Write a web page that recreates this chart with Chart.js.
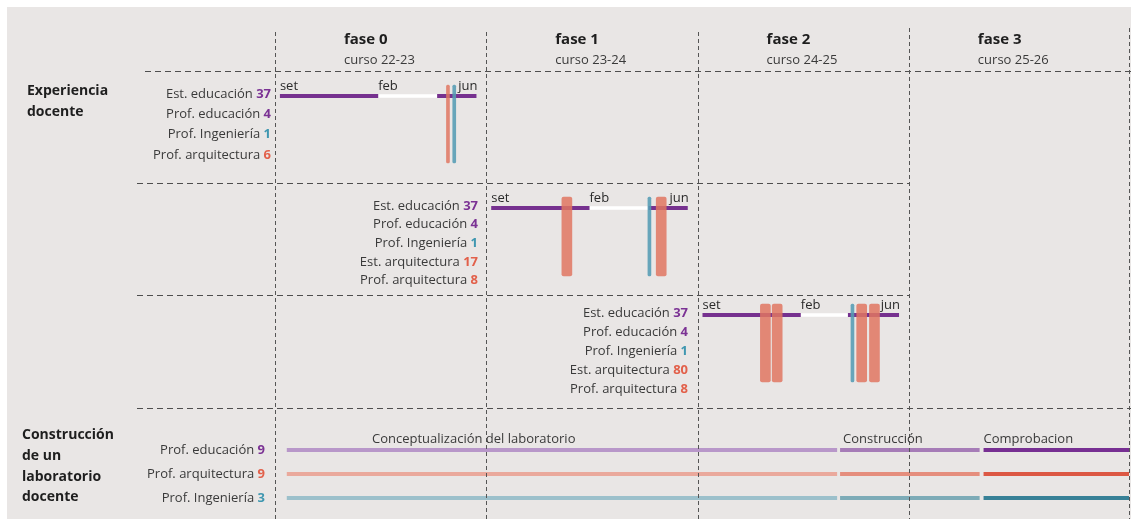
<!DOCTYPE html>
<html>
<head>
<meta charset="utf-8">
<script src="https://cdn.jsdelivr.net/npm/chart.js@4.4.1/dist/chart.umd.min.js"></script>
<style>
html,body{margin:0;padding:0;background:#ffffff;}
#wrap{width:1131px;height:519px;position:relative;}
</style>
</head>
<body>
<div id="wrap"><canvas id="c" width="1131" height="519"></canvas></div>
<script>
// ---------------- DATA ----------------
const phases = ['fase 0', 'fase 1', 'fase 2', 'fase 3'];
const courses = ['curso 22-23', 'curso 23-24', 'curso 24-25', 'curso 25-26'];

const sectionTitles = [['Experiencia', 'docente'], ['Construcción', 'de un', 'laboratorio', 'docente']];

const monthLabels = ['set', 'feb', 'jun'];
const monthLabelAt = [0, 5, 10];           // months from September

// Experiencia docente: one block per phase 0..2
const blockParticipants = [
  ['Est. educación', 'Prof. educación', 'Prof. Ingeniería', 'Prof. arquitectura'],
  ['Est. educación', 'Prof. educación', 'Prof. Ingeniería', 'Est. arquitectura', 'Prof. arquitectura'],
  ['Est. educación', 'Prof. educación', 'Prof. Ingeniería', 'Est. arquitectura', 'Prof. arquitectura']
];
const blockCounts = [
  [37, 4, 1, 6],
  [37, 4, 1, 17, 8],
  [37, 4, 1, 80, 8]
];
const blockGroups = [
  ['edu', 'edu', 'ing', 'arq'],
  ['edu', 'edu', 'ing', 'arq', 'arq'],
  ['edu', 'edu', 'ing', 'arq', 'arq']
];
// education students' course: active periods and break (months from September)
const eduActive = [[[0, 5], [8, 10]], [[0, 5], [8, 10]], [[0, 5], [7.4, 10]]];
const eduBreak = [[5, 8], [5, 8], [5, 7.4]];
// joint sessions (month from September)
const arqSessions = [[8.55], [3.85, 8.65], [3.2, 3.8, 8.1, 8.75]];
const arqSessionKind = ['prof', 'est', 'est'];
const ingSessions = [[8.87], [8.05], [7.63]];

// Construcción de un laboratorio docente
const labParticipants = ['Prof. educación', 'Prof. arquitectura', 'Prof. Ingeniería'];
const labCounts = [9, 9, 3];
const labGroups = ['edu', 'arq', 'ing'];
const labStages = ['Conceptualización del laboratorio', 'Construcción', 'Comprobacion'];
const labStageStart = [[0, 0.35], [2, 7.0], [3, 3.55]];   // [phase, month]
const labStageEnd = [[2, 6.85], [3, 3.35], [3, 10.95]];

// ---------------- STYLE / LAYOUT ----------------
const FONT = '"Open Sans", "Noto Sans", sans-serif';
const TEXT = '#3a3a3a';
const numColor = { edu: '#7b3294', ing: '#3f97b0', arq: '#e2604a' };
const labColors = {
  edu: ['#b897c9', '#a67cb7', '#772f92'],
  arq: ['#eaa99c', '#e58e7d', '#dc5844'],
  ing: ['#9cc0cb', '#7dabb7', '#388197']
};
const PURPLE = '#76318f';
const PHASE_W = 10.75, TL_OFF = 0.25, X_MAX = 43.45;
function pos(phase, month) { return phase * PHASE_W + TL_OFF + month; }

const blockRowY = [[94, 114, 134, 155], [206, 224.6, 243.2, 261.8, 280.4], [313, 332, 351, 370.5, 389.5]];
const blockLabelRight = [271, 478, 688];
const tlY = [96, 208, 315];
const barSpan = [[85, 163], [197, 276], [304, 382]];
const monthLabelY = [86, 198, 305];
const labY = [450, 474, 498];

// ---------------- DATASETS ----------------
const datasets = [];
function seg(x0, x1, yv, color, w, order) {
  datasets.push({
    type: 'line', data: [{ x: x0, y: yv }, { x: x1, y: yv }],
    borderColor: color, borderWidth: w, pointRadius: 0, borderCapStyle: 'butt',
    fill: false, tension: 0, order: order
  });
}
function vbar(xv, y0, y1, color, w) {
  datasets.push({
    type: 'bar', data: [{ x: xv, y: [y0, y1] }], backgroundColor: color,
    barThickness: w, grouped: false, borderRadius: 2, borderSkipped: false, order: 1
  });
}
for (let b = 0; b < 3; b++) {
  eduActive[b].forEach(p => seg(pos(b, p[0]), pos(b, p[1]), tlY[b], PURPLE, 4, 3));
  seg(pos(b, eduBreak[b][0]), pos(b, eduBreak[b][1]), tlY[b], '#ffffff', 3.5, 3);
  ingSessions[b].forEach(m => vbar(pos(b, m), barSpan[b][0], barSpan[b][1], 'rgba(84,156,180,0.88)', 3));
  arqSessions[b].forEach(m => vbar(pos(b, m), barSpan[b][0], barSpan[b][1], 'rgba(225,118,98,0.85)', arqSessionKind[b] === 'prof' ? 3 : 10));
}
labGroups.forEach((g, r) => {
  labStages.forEach((s, k) => {
    seg(pos(labStageStart[k][0], labStageStart[k][1]), pos(labStageEnd[k][0], labStageEnd[k][1]), labY[r], labColors[g][k], 4, 2);
  });
});

// ---------------- PLUGINS ----------------
const bgPlugin = {
  id: 'bg',
  beforeDraw(chart) {
    const ctx = chart.ctx;
    ctx.save();
    ctx.fillStyle = '#ffffff';
    ctx.fillRect(0, 0, chart.width, chart.height);
    ctx.fillStyle = '#e9e6e5';
    ctx.fillRect(7, 7, chart.width - 7, chart.height - 7);
    ctx.restore();
  }
};

function drawLabel(ctx, text, num, color, xr, yc) {
  ctx.textBaseline = 'middle';
  ctx.textAlign = 'right';
  ctx.font = 'bold 13px ' + FONT;
  ctx.fillStyle = color;
  const ns = String(num);
  ctx.fillText(ns, xr, yc);
  const w = ctx.measureText(ns).width;
  ctx.font = '13px ' + FONT;
  ctx.fillStyle = TEXT;
  ctx.fillText(text + ' ', xr - w, yc);
}

const overlayPlugin = {
  id: 'overlay',
  afterDatasetsDraw(chart) {
    const { ctx } = chart;
    const xs = chart.scales.x;
    ctx.save();
    // horizontal dashed separators
    ctx.strokeStyle = '#4e4e4e';
    ctx.lineWidth = 1.2;
    ctx.setLineDash([6, 4]);
    [[71, 145, 1131], [183, 137, 909], [295, 137, 909], [408, 137, 1131]].forEach(l => {
      ctx.beginPath(); ctx.moveTo(l[1], l[0] + 0.5); ctx.lineTo(l[2], l[0] + 0.5); ctx.stroke();
    });
    // vertical phase dividers
    ctx.strokeStyle = '#555555';
    ctx.lineWidth = 1;
    ctx.setLineDash([4, 3]);
    const divs = phases.map((p, i) => i * PHASE_W).concat([X_MAX]);
    divs.forEach((v, i) => {
      const px = Math.round(xs.getPixelForValue(v)) + 0.5;
      ctx.beginPath(); ctx.moveTo(px, i >= 3 ? 28 : 32); ctx.lineTo(px, 519); ctx.stroke();
    });
    ctx.setLineDash([]);

    // headers
    phases.forEach((p, i) => {
      const px = xs.getPixelForValue(i * PHASE_W) + 69;
      ctx.textAlign = 'left'; ctx.textBaseline = 'middle';
      ctx.fillStyle = '#1e1e1e';
      ctx.font = 'bold 15px ' + FONT;
      ctx.fillText(p, px, 40);
      ctx.fillStyle = TEXT;
      ctx.font = '13px ' + FONT;
      ctx.fillText(courses[i], px, 60);
    });

    // section titles
    ctx.fillStyle = '#1e1e1e';
    ctx.font = 'bold 14px ' + FONT;
    ctx.textAlign = 'left';
    [91, 112].forEach((yy, i) => ctx.fillText(sectionTitles[0][i], 27, yy));
    [435, 456, 477, 497].forEach((yy, i) => ctx.fillText(sectionTitles[1][i], 22, yy));

    // block labels and month labels
    for (let b = 0; b < 3; b++) {
      blockParticipants[b].forEach((t, r) => {
        drawLabel(ctx, t, blockCounts[b][r], numColor[blockGroups[b][r]], blockLabelRight[b], blockRowY[b][r]);
      });
      ctx.font = '13px ' + FONT;
      ctx.fillStyle = '#2a2a2a';
      monthLabels.forEach((m, k) => {
        const px = xs.getPixelForValue(pos(b, monthLabelAt[k]));
        ctx.textAlign = k === monthLabels.length - 1 ? 'right' : 'left';
        ctx.fillText(m, px + (k === monthLabels.length - 1 ? 1 : 0), monthLabelY[b]);
      });
    }

    // lab labels
    labParticipants.forEach((t, r) => drawLabel(ctx, t, labCounts[r], numColor[labGroups[r]], 265, labY[r]));
    ctx.font = '13px ' + FONT;
    ctx.fillStyle = TEXT;
    ctx.textAlign = 'left';
    const stageX = [372, xs.getPixelForValue(pos(labStageStart[1][0], labStageStart[1][1])) + 3,
                    xs.getPixelForValue(pos(labStageStart[2][0], labStageStart[2][1]))];
    labStages.forEach((s, k) => ctx.fillText(s, stageX[k], 439));
    ctx.restore();
  }
};

// ---------------- CHART ----------------
new Chart(document.getElementById('c'), {
  type: 'line',
  data: { datasets: datasets },
  options: {
    responsive: false,
    devicePixelRatio: 1,
    animation: false,
    layout: { padding: { left: 275, right: 2, top: 0, bottom: 0 } },
    plugins: { legend: { display: false }, tooltip: { enabled: false } },
    scales: {
      x: { type: 'linear', min: 0, max: X_MAX, offset: false, display: false },
      y: { type: 'linear', min: 0, max: 519, reverse: true, display: false }
    }
  },
  plugins: [bgPlugin, overlayPlugin]
});
</script>
</body>
</html>
